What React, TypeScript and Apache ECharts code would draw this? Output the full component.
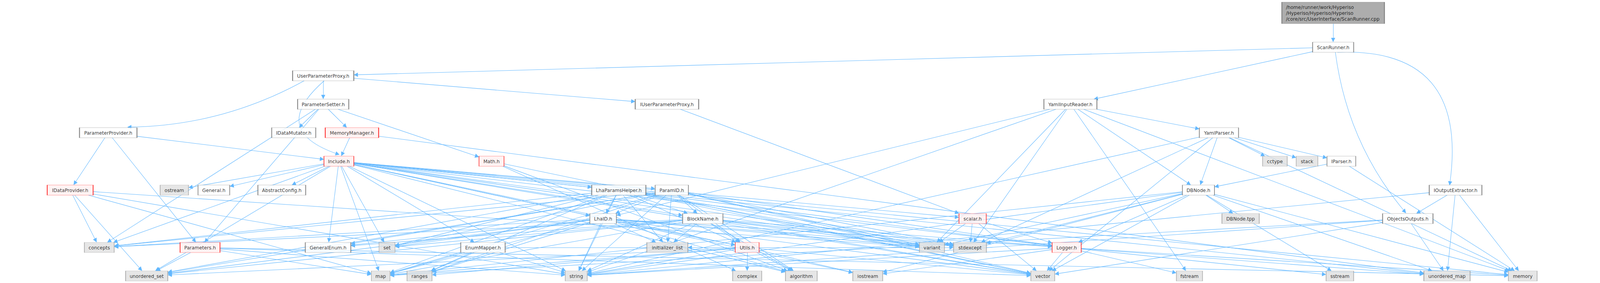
import React, { useEffect, useRef } from "react";
import * as echarts from "echarts";

// ---------- data ----------
const ROOT = "ScanRunner.cpp";
const rootLabel = "/home/runner/work/Hyperiso\n/Hyperiso/Hyperiso/Hyperiso\n/core/src/UserInterface/ScanRunner.cpp";

const projectHeaders: string[] = [
  "ScanRunner.h", "UserParameterProxy.h", "ParameterSetter.h", "IUserParameterProxy.h", "YamlInputReader.h",
  "ParameterProvider.h", "IDataMutator.h", "MemoryManager.h", "YamlParser.h", "Include.h", "Math.h", "IParser.h",
  "IDataProvider.h", "General.h", "AbstractConfig.h", "LhaParamsHelper.h", "ParamID.h", "DBNode.h",
  "IOutputExtractor.h", "LhaID.h", "BlockName.h", "scalar.h", "ObjectsOutputs.h", "Parameters.h",
  "GeneralEnum.h", "EnumMapper.h", "Utils.h", "Logger.h",
];

const truncatedHeaders: string[] = [
  "MemoryManager.h", "Include.h", "IDataProvider.h", "Math.h", "Parameters.h", "scalar.h", "Utils.h", "Logger.h",
];

const externalHeaders: string[] = [
  "cctype", "stack", "ostream", "DBNode.tpp", "concepts", "set", "initializer_list", "variant", "stdexcept",
  "unordered_set", "map", "ranges", "string", "complex", "algorithm", "iostream", "vector", "fstream",
  "sstream", "unordered_map", "memory",
];

const dependencies: [string, string[]][] = [
  [ROOT, ["ScanRunner.h"]],
  ["ScanRunner.h", ["UserParameterProxy.h", "YamlInputReader.h", "ObjectsOutputs.h", "IOutputExtractor.h"]],
  ["UserParameterProxy.h", ["ParameterProvider.h", "ParameterSetter.h", "IUserParameterProxy.h", "Include.h"]],
  ["ParameterSetter.h", ["IDataMutator.h", "MemoryManager.h", "Math.h", "Parameters.h", "concepts"]],
  ["MemoryManager.h", ["Include.h", "unordered_map"]],
  ["ParameterProvider.h", ["IDataProvider.h", "Include.h", "Parameters.h"]],
  ["IUserParameterProxy.h", ["scalar.h"]],
  ["YamlInputReader.h", ["YamlParser.h", "DBNode.h", "string", "stdexcept", "variant", "memory", "fstream", "LhaID.h"]],
  ["YamlParser.h", ["cctype", "stack", "IParser.h", "DBNode.h", "memory", "vector", "stdexcept", "string"]],
  ["IParser.h", ["DBNode.h", "memory"]],
  ["Include.h", ["ostream", "General.h", "AbstractConfig.h", "GeneralEnum.h", "LhaParamsHelper.h", "ParamID.h",
    "LhaID.h", "BlockName.h", "EnumMapper.h", "Logger.h", "scalar.h", "Utils.h", "concepts", "unordered_set",
    "map", "set", "string", "vector", "variant", "memory", "unordered_map", "stdexcept", "algorithm", "iostream"]],
  ["IDataProvider.h", ["concepts", "unordered_set", "map", "string", "variant"]],
  ["Math.h", ["vector", "complex", "algorithm"]],
  ["LhaParamsHelper.h", ["LhaID.h", "BlockName.h", "Utils.h", "initializer_list", "string", "concepts",
    "unordered_set", "map", "set", "vector", "variant", "stdexcept", "Logger.h", "ranges"]],
  ["ParamID.h", ["LhaID.h", "BlockName.h", "initializer_list", "Utils.h", "string", "concepts", "unordered_set",
    "map", "set", "GeneralEnum.h", "variant", "stdexcept", "Logger.h", "vector", "algorithm", "ranges"]],
  ["DBNode.h", ["DBNode.tpp", "memory", "sstream", "unordered_map", "variant", "stdexcept", "string", "vector",
    "Logger.h", "map", "iostream"]],
  ["IOutputExtractor.h", ["ObjectsOutputs.h", "unordered_map", "memory", "string"]],
  ["LhaID.h", ["initializer_list", "Utils.h", "string", "concepts", "unordered_set", "map", "set", "GeneralEnum.h",
    "algorithm", "vector", "variant", "stdexcept", "Logger.h", "ranges"]],
  ["BlockName.h", ["initializer_list", "Utils.h", "string", "concepts", "map", "set", "GeneralEnum.h",
    "unordered_set", "algorithm", "vector", "variant", "stdexcept", "Logger.h"]],
  ["scalar.h", ["Logger.h", "stdexcept", "variant", "vector"]],
  ["ObjectsOutputs.h", ["unordered_map", "string", "vector", "map"]],
  ["Parameters.h", ["unordered_set", "map", "string", "vector", "memory"]],
  ["EnumMapper.h", ["ranges", "string", "map", "stdexcept"]],
  ["Utils.h", ["initializer_list", "complex", "algorithm", "vector", "string", "map", "unordered_set", "ranges", "iostream"]],
  ["Logger.h", ["vector", "fstream", "string", "iostream", "sstream", "memory", "unordered_map"]],
];

// ---------- layout (graph drawing positions, pixel space of the reference) ----------
const CANVAS_W = 4287;
const CANVAS_H = 725;
const BOX_H = 26;
const ROOT_H = 55;
const ARROW = 11;
// [centerX, centerY, width]
const nodeBoxes: Record<string, [number, number, number]> = {
  [ROOT]: [3572, 33, 275],
  "ScanRunner.h": [3572, 121, 110],
  "UserParameterProxy.h": [866, 194, 164],
  "ParameterSetter.h": [866, 267, 137],
  "IUserParameterProxy.h": [1787, 267, 170],
  "YamlInputReader.h": [2868, 267, 142],
  "ParameterProvider.h": [290, 340, 154],
  "IDataMutator.h": [787, 340, 118],
  "MemoryManager.h": [943, 340, 143],
  "YamlParser.h": [3266, 340, 105],
  "Include.h": [908, 413, 80],
  "Math.h": [1317, 413, 67],
  "cctype": [3416, 413, 66],
  "stack": [3502, 413, 58],
  "IParser.h": [3594, 413, 77],
  "IDataProvider.h": [188, 487, 123],
  "ostream": [467, 487, 76],
  "General.h": [573, 487, 85],
  "AbstractConfig.h": [755, 487, 128],
  "LhaParamsHelper.h": [1658, 487, 145],
  "ParamID.h": [1800, 487, 89],
  "DBNode.h": [3211, 487, 86],
  "IOutputExtractor.h": [3900, 487, 141],
  "LhaID.h": [1616, 560, 71],
  "BlockName.h": [1883, 560, 108],
  "scalar.h": [2606, 560, 73],
  "DBNode.tpp": [3324, 560, 100],
  "ObjectsOutputs.h": [3772, 560, 135],
  "concepts": [266, 634, 80],
  "Parameters.h": [536, 634, 107],
  "GeneralEnum.h": [879, 634, 122],
  "set": [1037, 634, 43],
  "EnumMapper.h": [1294, 634, 119],
  "initializer_list": [1788, 634, 110],
  "Utils.h": [2002, 634, 64],
  "variant": [2497, 634, 67],
  "stdexcept": [2599, 634, 88],
  "Logger.h": [2858, 634, 78],
  "unordered_set": [393, 707, 113],
  "map": [1020, 707, 50],
  "ranges": [1124, 707, 67],
  "string": [1544, 707, 59],
  "complex": [2002, 707, 78],
  "algorithm": [2147, 707, 85],
  "iostream": [2325, 707, 80],
  "vector": [2794, 707, 64],
  "fstream": [3187, 707, 70],
  "sstream": [3590, 707, 74],
  "unordered_map": [3877, 707, 124],
  "memory": [4080, 707, 77],
};
// edge bending (style only)
const edgeCurves: Record<string, number> = {
  "ScanRunner.h>IOutputExtractor.h": 0.6,
  "UserParameterProxy.h>Include.h": -0.9,
  "UserParameterProxy.h>ParameterProvider.h": 0.12,
  "ScanRunner.h>ObjectsOutputs.h": -0.15,
};

function boxOf(id: string) {
  const [cx, cy, w] = nodeBoxes[id];
  return { cx, cy, hw: w / 2, hh: (id === ROOT ? ROOT_H : BOX_H) / 2 };
}

function clip(b: { cx: number; cy: number; hw: number; hh: number }, dx: number, dy: number): [number, number] {
  const tx = dx === 0 ? Infinity : b.hw / Math.abs(dx);
  const ty = dy === 0 ? Infinity : b.hh / Math.abs(dy);
  const t = Math.min(tx, ty);
  return [b.cx + dx * t, b.cy + dy * t];
}

function nodeStyle(id: string) {
  if (id === ROOT) return { color: "#999999", borderColor: "#666666", borderWidth: 1 };
  if (externalHeaders.includes(id)) return { color: "#e0e0e0", borderColor: "#999999", borderWidth: 1 };
  if (truncatedHeaders.includes(id)) return { color: "#fff0f0", borderColor: "#ff0000", borderWidth: 1 };
  return { color: "#ffffff", borderColor: "#666666", borderWidth: 1 };
}

export default function App() {
  const ref = useRef<HTMLDivElement>(null);
  const sx = typeof window !== "undefined" ? window.innerWidth / CANVAS_W : 1;
  const sy = typeof window !== "undefined" ? window.innerHeight / CANVAS_H : 1;

  useEffect(() => {
    if (!ref.current) return;
    const chart = echarts.init(ref.current, undefined, { renderer: "svg" });

    const allNodes = [ROOT, ...projectHeaders, ...externalHeaders];
    const nodeData = allNodes.map((id) => {
      const b = boxOf(id);
      const isRoot = id === ROOT;
      return {
        name: id,
        value: [b.cx, b.cy],
        symbolSize: [b.hw * 2, b.hh * 2],
        itemStyle: nodeStyle(id),
        label: isRoot
          ? {
              show: true,
              formatter: rootLabel,
              position: [12, 5],
              align: "left",
              verticalAlign: "top",
              lineHeight: 15.3,
            }
          : { show: true, formatter: id, position: "inside" },
      };
    });

    const edgeData: any[] = [];
    dependencies.forEach(([src, targets]) => {
      targets.forEach((tgt) => {
        const A = boxOf(src);
        const B = boxOf(tgt);
        const dx = B.cx - A.cx;
        const dy = B.cy - A.cy;
        const len = Math.hypot(dx, dy);
        const s = clip(A, dx, dy);
        const e = clip(B, -dx, -dy);
        const pull = ARROW / 2;
        const end: [number, number] = [e[0] - (dx / len) * pull, e[1] - (dy / len) * pull];
        const c = edgeCurves[`${src}>${tgt}`] ?? 0;
        edgeData.push({ coords: [s, end], lineStyle: { curveness: c } });
      });
    });

    chart.setOption({
      animation: false,
      backgroundColor: "#ffffff",
      grid: { left: 0, right: 0, top: 0, bottom: 0 },
      xAxis: { type: "value", min: 0, max: CANVAS_W, show: false },
      yAxis: { type: "value", min: 0, max: CANVAS_H, inverse: true, show: false },
      series: [
        {
          type: "lines",
          coordinateSystem: "cartesian2d",
          z: 1,
          silent: true,
          symbol: ["none", "triangle"],
          symbolSize: ARROW,
          lineStyle: { color: "#63b8ff", width: 1.1, opacity: 1 },
          itemStyle: { color: "#63b8ff" },
          data: edgeData,
        },
        {
          type: "scatter",
          z: 5,
          silent: true,
          symbol: "rect",
          clip: false,
          label: {
            color: "#000000",
            fontFamily: "DejaVu Sans",
            fontSize: 12.7,
          },
          emphasis: { disabled: true },
          data: nodeData,
        },
      ],
    });
    return () => chart.dispose();
  }, []);

  return (
    <div
      ref={ref}
      style={{
        position: "fixed",
        left: 0,
        top: 0,
        width: CANVAS_W,
        height: CANVAS_H,
        background: "#fff",
        transformOrigin: "0 0",
        transform: `scale(${sx}, ${sy})`,
      }}
    />
  );
}
